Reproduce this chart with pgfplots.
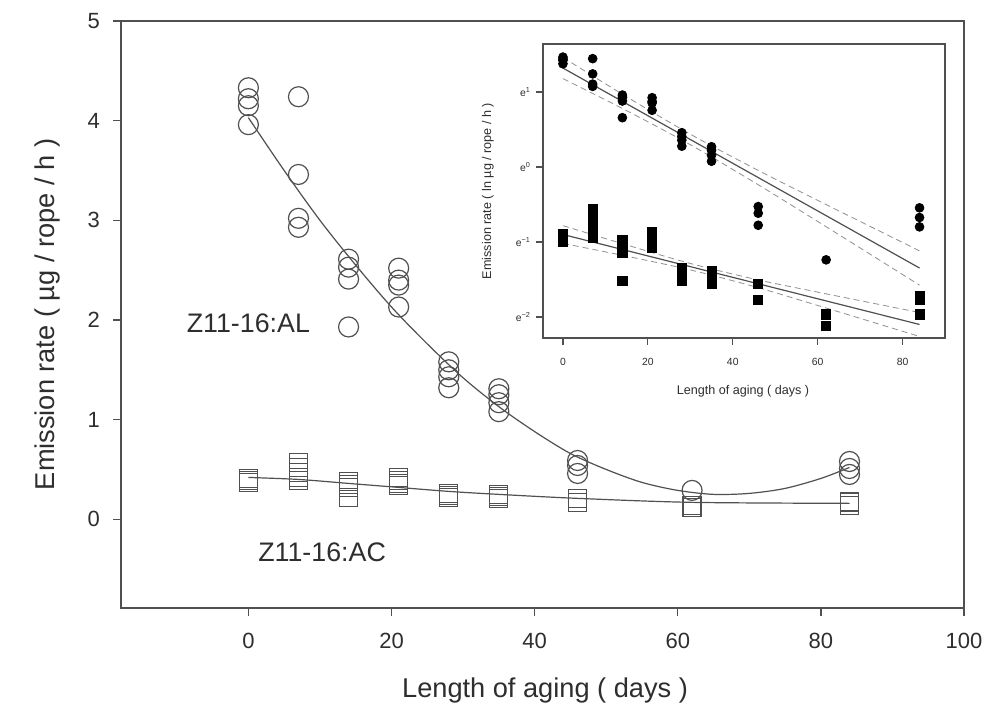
\documentclass[border=0pt]{standalone}
\usepackage{fontspec}
\setmainfont{Liberation Sans}
\usepackage{pgfplots}
\usepackage{pgfplotstable}
\pgfplotsset{compat=1.18}
\definecolor{ink}{HTML}{2E2E2E}
\definecolor{axgray}{HTML}{505050}
\definecolor{bandgray}{HTML}{909090}

% Z11-16:AL, emission rate per rope (ug/rope/h)
\pgfplotstableread{
x y
0 4.33
0 4.22
0 4.15
0 3.96
7 4.24
7 3.46
7 3.02
7 2.93
14 2.61
14 2.53
14 2.41
14 1.93
21 2.52
21 2.40
21 2.35
21 2.13
28 1.58
28 1.50
28 1.43
28 1.32
35 1.31
35 1.25
35 1.17
35 1.08
46 0.59
46 0.54
46 0.46
62 0.29
84 0.58
84 0.51
84 0.45
}\alpts

% Z11-16:AC
\pgfplotstableread{
x y
0 0.41
0 0.39
0 0.37
7 0.57
7 0.52
7 0.47
7 0.42
7 0.39
14 0.38
14 0.35
14 0.32
14 0.22
21 0.42
21 0.39
21 0.36
21 0.34
28 0.26
28 0.24
28 0.22
35 0.25
35 0.23
35 0.21
46 0.21
46 0.17
62 0.14
62 0.12
84 0.18
84 0.17
84 0.14
}\acpts

\begin{document}
\begin{tikzpicture}
\path[use as bounding box, fill=white] (0,0) rectangle (498pt,-352pt);

% ---------------- main plot -----------------------------------------
\begin{axis}[
  at={(60.5pt,-304pt)}, anchor=south west,
  scale only axis, width=421.5pt, height=293.5pt,
  xmin=-17.8, xmax=100, ymin=-0.89, ymax=5,
  xtick={0,20,...,100}, ytick={0,1,...,5},
  xtick pos=bottom, ytick pos=left,
  tick align=outside, major tick length=4pt,
  axis line style={axgray, line width=0.7pt},
  tick style={axgray, line width=0.7pt},
  tick label style={font=\fontsize{11}{13}\selectfont, text=ink},
  /pgf/number format/assume math mode=true,
  xticklabel style={yshift=-5pt},
  yticklabel style={xshift=-3pt},
  xlabel={Length of aging ( days )},
  ylabel={Emission rate ( µg / rope / h )},
  label style={font=\fontsize{13.6}{16}\selectfont, text=ink},
  xlabel style={at={(axis description cs:0.503,-0.14)}, anchor=center},
  ylabel style={at={(axis description cs:-0.087,0.5)}, anchor=center},
  clip=false,
]
\addplot[smooth, axgray, line width=0.6pt] coordinates {
  (0,4.03) (5,3.50) (10,3.00) (15,2.55) (20,2.13) (25,1.76) (30,1.42)
  (35,1.13) (40,0.88) (45,0.66) (50,0.50) (55,0.37) (60,0.29) (65,0.25)
  (70,0.26) (75,0.31) (80,0.41) (84,0.52)};
\addplot[smooth, axgray, line width=0.6pt] coordinates {
  (0,0.42) (7,0.40) (14,0.36) (21,0.32) (28,0.28) (35,0.25) (46,0.21)
  (62,0.17) (84,0.16)};
\addplot[only marks, mark=o, mark size=5pt, axgray,
         mark options={line width=0.6pt}] table {\alpts};
\addplot[only marks, mark=square, mark size=4.5pt, axgray,
         mark options={line width=0.6pt}] table {\acpts};
\node[font=\fontsize{13.4}{16}\selectfont, text=ink] at (axis cs:0,1.97) {Z11-16:AL};
\node[font=\fontsize{13.4}{16}\selectfont, text=ink] at (axis cs:10.3,-0.33) {Z11-16:AC};
\end{axis}

% ---------------- inset, log scale ----------------------------------
\begin{axis}[
  at={(271.5pt,-169pt)}, anchor=south west,
  scale only axis, width=201pt, height=147pt,
  axis background/.style={fill=white},
  xmin=-4.7, xmax=90, ymin=0.1023, ymax=5.155,
  ymode=log,
  xtick={0,20,...,80},
  ytick={0.135335,0.367879,1,2.718282},
  yticklabels={e\textsuperscript{−2},e\textsuperscript{−1},e\textsuperscript{0},e\textsuperscript{1}},
  xtick pos=bottom, ytick pos=left,
  tick align=outside, major tick length=3.5pt,
  axis line style={axgray, line width=0.6pt},
  tick style={axgray, line width=0.6pt},
  tick label style={font=\fontsize{5.2}{6.5}\selectfont, text=ink},
  /pgf/number format/assume math mode=true,
  xticklabel style={yshift=-3pt},
  yticklabel style={xshift=1pt},
  xlabel={Length of aging ( days )},
  ylabel={Emission rate ( ln µg / rope / h )},
  label style={font=\fontsize{6.3}{8}\selectfont, text=ink},
  xlabel style={at={(axis description cs:0.4975,-0.18)}, anchor=center},
  ylabel style={at={(axis description cs:-0.137,0.5)}, anchor=center},
]
% regression lines with confidence bands
\addplot[smooth, bandgray, densely dashed, line width=0.4pt] coordinates {
  (0,4.31) (15,2.55) (30,1.549) (45,0.984) (60,0.641) (84,0.327)};
\addplot[smooth, bandgray, densely dashed, line width=0.4pt] coordinates {
  (0,3.25) (15,2.12) (30,1.346) (45,0.817) (60,0.484) (84,0.207)};
\addplot[axgray, line width=0.6pt] coordinates {(0,3.74) (84,0.260)};
\addplot[smooth, bandgray, densely dashed, line width=0.4pt] coordinates {
  (0,0.4575) (15,0.3538) (30,0.2764) (45,0.2247) (60,0.1886) (84,0.1437)};
\addplot[smooth, bandgray, densely dashed, line width=0.4pt] coordinates {
  (0,0.3613) (15,0.3045) (30,0.2536) (45,0.2033) (60,0.1579) (84,0.1044)};
\addplot[axgray, line width=0.6pt] coordinates {(0,0.4066) (84,0.1225)};
\addplot[only marks, mark=*, mark size=2.2pt, black] table {\alpts};
\addplot[only marks, mark=square*, mark size=2.3pt, black] table {\acpts};
\end{axis}
\end{tikzpicture}
\end{document}
